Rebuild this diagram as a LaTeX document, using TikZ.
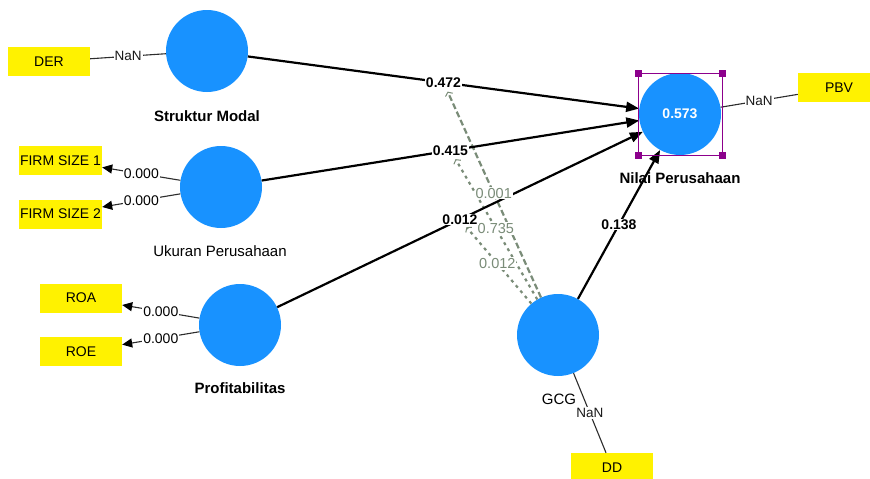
\documentclass[tikz,border=0pt]{standalone}
\usepackage{fontspec}
\setmainfont{Liberation Sans}
\usetikzlibrary{arrows.meta,calc}
\definecolor{lvblue}{RGB}{24,146,255}
\definecolor{modgray}{RGB}{122,140,120}
\definecolor{selpurple}{RGB}{140,0,140}
\definecolor{loadgray}{RGB}{45,45,45}
\begin{document}
\begin{tikzpicture}[x=1pt,y=-1pt,
  lv/.style={circle,fill=lvblue,minimum size=82pt,inner sep=0pt},
  ind/.style={fill=yellow,minimum width=82pt,minimum height=29pt,inner sep=0pt,font=\fontsize{14}{16}\selectfont},
  lvlab/.style={inner sep=0pt,font=\fontsize{15}{17}\selectfont\bfseries},
  lvlabr/.style={inner sep=0pt,text=black,font=\fontsize{15}{17}\selectfont},
  pathline/.style={line width=2.2pt,-{Triangle[length=13pt,width=10pt]}},
  loadline/.style={line width=1.1pt,draw=loadgray},
  loadarr/.style={loadline,-{Triangle[length=10pt,width=9pt,fill=black,color=black]}},
  modA/.style={draw=modgray,line width=2.2pt,dash pattern=on 6pt off 3pt,shorten >=10pt,-{Straight Barb[length=3pt,width=8pt,line width=1pt]}},
  modB/.style={draw=modgray,line width=2.2pt,dash pattern=on 3pt off 4pt,shorten >=10pt,-{Straight Barb[length=3pt,width=8pt,line width=1pt]}},
  blab/.style={fill=white,inner sep=1pt,font=\fontsize{14}{16}\selectfont\bfseries},
  glab/.style={fill=white,inner sep=1pt,text=modgray,font=\fontsize{14.5}{16}\selectfont},
  wlab/.style={fill=white,inner sep=1pt,text=black,font=\fontsize{14}{16}\selectfont},
  nlab/.style={fill=white,inner sep=1pt,text=black!90,font=\fontsize{13.5}{16}\selectfont},
  handle/.style={fill=selpurple,minimum size=7pt,inner sep=0pt}
]
\useasboundingbox (0,0) rectangle (870,479);

% latent variables
\node[lv] (sm) at (207,51) {};
\node[lv] (up) at (221,187) {};
\node[lv] (pr) at (240,325) {};
\node[lv] (np) at (680,114) {};
\node[lv] (gcg) at (558,335) {};

% indicators
\node[ind] (der) at (49,61.5) {DER};
\node[ind,minimum width=83pt] (fs1) at (60.5,160.5) {FIRM SIZE 1};
\node[ind,minimum width=83pt] (fs2) at (60.5,214) {FIRM SIZE 2};
\node[ind] (roa) at (81,298) {ROA};
\node[ind] (roe) at (81,351.5) {ROE};
\node[ind] (pbv) at (839,87.5) {PBV};
\node[ind] (dd) at (612,467.5) {DD};

% midpoints of the structural paths
\coordinate (m1) at ($(sm)!0.5!(np)$);
\coordinate (m2) at ($(up)!0.5!(np)$);
\coordinate (m3) at ($(pr)!0.5!(np)$);

% moderating (dashed) lines
\draw[modA] (gcg) -- (m1);
\draw[modB] (gcg) -- (m2);
\draw[modB] (gcg) -- (m3);

% outer model
\draw[loadline] (der) -- (sm);
\draw[loadarr] (up) -- (fs1);
\draw[loadarr] (up) -- (fs2);
\draw[loadarr] (pr) -- (roa);
\draw[loadarr] (pr) -- (roe);
\draw[loadline] (np) -- (pbv);
\draw[loadline] (gcg) -- (dd);

% inner model
\draw[pathline] (sm) -- (np);
\draw[pathline] (up) -- (np);
\draw[pathline] (pr) -- (np);
\draw[pathline] (gcg) -- (np);

% labels on connectors
\path (der) -- (sm) node[nlab,midway] (l1) {NaN};
\path (np) -- (pbv) node[nlab,midway] (l2) {NaN};
\path (gcg) -- (dd) node[nlab,midway] (l3) {NaN};
\path (up) -- (fs1) node[wlab,midway] (l4) {0.000};
\path (up) -- (fs2) node[wlab,midway] (l5) {0.000};
\path (pr) -- (roa) node[wlab,midway] (l6) {0.000};
\path (pr) -- (roe) node[wlab,midway] (l7) {0.000};
\path (gcg) -- (m1) node[glab,pos=0.485] (l8) {0.001};
\path (gcg) -- (m2) node[glab,pos=0.477] (l9) {0.735};
\path (gcg) -- (m3) node[glab,pos=0.477] (l10) {0.012};
\path (sm) -- (np) node[blab,midway] (l11) {0.472};
\path (up) -- (np) node[blab,midway] (l12) {0.415};
\path (pr) -- (np) node[blab,midway] (l13) {0.012};
\path (gcg) -- (np) node[blab,midway] (l14) {0.138};

% R squared
\node[text=white,font=\fontsize{14}{16}\selectfont\bfseries] (r2) at (np) {0.573};

% selection frame
\draw[selpurple,line width=0.9pt] (638,73) rectangle (722,155);
\node[handle] (h1) at (638,73) {};
\node[handle] (h2) at (722,73) {};
\node[handle] (h3) at (638,155) {};
\node[handle] (h4) at (722,155) {};

% latent variable names
\node[lvlab] (tsm) at (207,116) {Struktur Modal};
\node[lvlabr] (tup) at (220,251.5) {Ukuran Perusahaan};
\node[lvlab] (tpr) at (240,388.5) {Profitabilitas};
\node[lvlab] (tnp) at (680,178) {Nilai Perusahaan};
\node[lvlabr] (tg) at (559,399.5) {GCG};
\end{tikzpicture}
\end{document}
